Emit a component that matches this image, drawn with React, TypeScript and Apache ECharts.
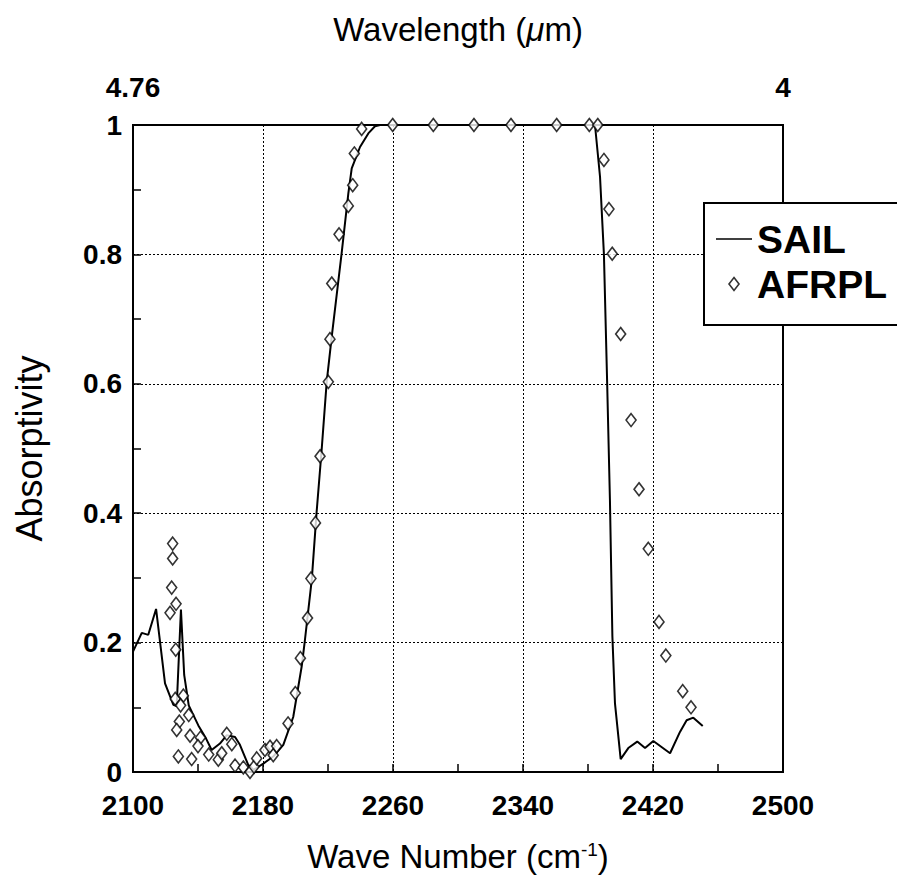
import React, { useEffect, useRef } from "react";
import * as echarts from "echarts";

// SAIL model curve: [wave number (cm-1), absorptivity]
const SAIL: [number, number][] = [
  [2100, 0.186], [2105.4, 0.215], [2109.4, 0.212], [2114.2, 0.252], [2119.7, 0.137],
  [2124.8, 0.104], [2126.9, 0.102], [2129.5, 0.251], [2131.5, 0.15], [2134.3, 0.103],
  [2140.2, 0.072], [2144.9, 0.052], [2148.4, 0.034], [2153.5, 0.044], [2157.7, 0.057],
  [2162.8, 0.054], [2165.8, 0.042], [2170.9, 0.011], [2174.0, 0.003], [2180.2, 0.013],
  [2186.3, 0.024], [2192.5, 0.042], [2198.6, 0.085], [2203.8, 0.163], [2205.8, 0.204],
  [2210.0, 0.297], [2213.0, 0.402], [2216.1, 0.498], [2219.2, 0.603], [2222.3, 0.673],
  [2228.4, 0.802], [2232.5, 0.894], [2234.6, 0.933], [2239.7, 0.966], [2244.8, 0.987],
  [2248.9, 0.998], [2252, 1.0], [2300, 1.0], [2350, 1.0], [2384.3, 1.0],
  [2387.4, 0.92], [2389.8, 0.8], [2391.8, 0.6], [2393.5, 0.42], [2395, 0.21],
  [2396.6, 0.106], [2400.1, 0.02], [2404.8, 0.037], [2410.3, 0.047], [2415.1, 0.037],
  [2420.2, 0.048], [2430.5, 0.029], [2436.6, 0.062], [2440.7, 0.08], [2444.8, 0.084],
  [2450.6, 0.071],
];

// AFRPL measurements: [wave number (cm-1), absorptivity]
const AFRPL: [number, number][] = [
  [2124.4, 0.353], [2124.4, 0.33], [2123.8, 0.285], [2126.5, 0.26], [2122.8, 0.246],
  [2126.3, 0.189], [2126.0, 0.113], [2131.0, 0.118], [2129.3, 0.103], [2134.3, 0.088],
  [2128.5, 0.078], [2126.9, 0.065], [2135.1, 0.056], [2141.5, 0.053], [2140.0, 0.04],
  [2127.9, 0.024], [2136.1, 0.02], [2146.6, 0.027], [2152.5, 0.019], [2154.6, 0.029],
  [2157.7, 0.059], [2160.8, 0.043], [2162.8, 0.01], [2167.9, 0.007], [2172.0, 0.0],
  [2174.5, 0.008], [2176.1, 0.021], [2181.2, 0.034], [2184.3, 0.039], [2186.3, 0.026],
  [2188.4, 0.04], [2195.4, 0.075], [2199.9, 0.122], [2203.0, 0.176], [2207.4, 0.238],
  [2209.5, 0.299], [2212.3, 0.385], [2215.1, 0.488], [2220.2, 0.603], [2221.2, 0.669],
  [2222.3, 0.755], [2226.8, 0.831], [2232.5, 0.875], [2235.2, 0.907], [2236.2, 0.956],
  [2240.7, 0.994], [2259.8, 1.0], [2284.8, 1.0], [2309.8, 1.0], [2332.6, 1.0],
  [2360.7, 1.0], [2380.8, 1.0], [2386.0, 1.0], [2389.8, 0.946], [2392.9, 0.87],
  [2394.9, 0.801], [2400.1, 0.677], [2406.5, 0.544], [2411.4, 0.437], [2417.1, 0.345],
  [2423.7, 0.232], [2427.9, 0.18], [2438.3, 0.125], [2443.4, 0.1],
];

// Wavelength labels on the top axis, at the wave numbers they correspond to
const TOP_TICK_POSITIONS = [2100, 2500];
const TOP_TICK_LABELS = ["4.76", "4"];

const FONT = "'Liberation Sans', Arial, Helvetica, sans-serif";

export default function App() {
  const ref = useRef<HTMLDivElement>(null);

  useEffect(() => {
    if (!ref.current) return;
    const chart = echarts.init(ref.current, null, { renderer: "svg" });
    const black = "#000";
    chart.setOption({
      animation: false,
      backgroundColor: "#fff",
      textStyle: { fontFamily: FONT, color: black },
      grid: {
        left: 133,
        top: 125,
        right: 114,
        bottom: 112,
        show: true,
        borderColor: black,
        borderWidth: 2,
        backgroundColor: "transparent",
      },
      legend: {
        orient: "vertical",
        left: 704,
        top: 203,
        padding: [16, 30, 21, 12],
        backgroundColor: "#fff",
        borderColor: black,
        borderWidth: 2,
        borderRadius: 0,
        itemWidth: 36,
        itemHeight: 13,
        itemGap: 5,
        symbolKeepAspect: true,
        textStyle: {
          fontFamily: FONT,
          fontSize: 39,
          fontWeight: "bold",
          color: black,
          lineHeight: 40,
        },
        data: [
          {
            name: "SAIL",
            icon: "path://M0,0 L36,0 L36,1.6 L0,1.6 Z",
            itemStyle: { color: black, borderWidth: 0 },
          },
          {
            name: "AFRPL",
            icon: "path://M5,0 L10,6.5 L5,13 L0,6.5 Z",
            itemStyle: { color: "#fff", borderColor: black, borderWidth: 1.6 },
          },
        ],
      },
      xAxis: [
        {
          type: "value",
          position: "bottom",
          min: 2100,
          max: 2500,
          interval: 80,
          name: "Wave Number (cm{sup|-1})",
          nameLocation: "middle",
          nameGap: 68,
          nameTextStyle: {
            fontFamily: FONT,
            fontSize: 33,
            color: black,
            rich: {
              sup: { fontSize: 19, fontFamily: FONT, color: black, verticalAlign: "top", padding: [0, 0, 14, 0] },
            },
          },
          axisLine: { show: true, lineStyle: { color: black, width: 2 } },
          axisTick: { show: true, inside: true, length: 8, lineStyle: { color: black, width: 1.5 } },
          minorTick: { show: true, splitNumber: 2, length: 8, lineStyle: { color: black, width: 1.5 } },
          axisLabel: {
            fontFamily: FONT,
            fontSize: 28,
            fontWeight: "bold",
            color: black,
            margin: 19,
            showMinLabel: true,
            showMaxLabel: true,
            formatter: (v: number) => String(v),
          },
          splitLine: { show: true, lineStyle: { color: black, width: 1, type: [2, 2] } },
        },
        {
          type: "value",
          position: "top",
          min: 2100,
          max: 2500,
          interval: 400,
          name: "Wavelength ({mu|μ}m)",
          nameLocation: "middle",
          nameGap: 79,
          nameTextStyle: {
            fontFamily: FONT,
            fontSize: 33,
            color: black,
            rich: { mu: { fontFamily: FONT, fontSize: 33, fontStyle: "italic", color: black } },
          },
          axisLine: { show: false },
          axisTick: { show: false },
          splitLine: { show: false },
          axisLabel: {
            fontFamily: FONT,
            fontSize: 28,
            fontWeight: "bold",
            color: black,
            margin: 24,
            showMinLabel: true,
            showMaxLabel: true,
            formatter: (v: number) => {
              const i = TOP_TICK_POSITIONS.indexOf(v);
              return i >= 0 ? TOP_TICK_LABELS[i] : "";
            },
          },
        },
      ],
      yAxis: {
        type: "value",
        min: 0,
        max: 1,
        interval: 0.2,
        name: "Absorptivity",
        nameLocation: "middle",
        nameGap: 86,
        nameRotate: 90,
        nameTextStyle: { fontFamily: FONT, fontSize: 36, color: black },
        axisLine: { show: true, lineStyle: { color: black, width: 2 } },
        axisTick: { show: true, inside: true, length: 8, lineStyle: { color: black, width: 1.5 } },
        minorTick: { show: true, splitNumber: 2, length: 8, lineStyle: { color: black, width: 1.5 } },
        axisLabel: {
          fontFamily: FONT,
          fontSize: 28,
          fontWeight: "bold",
          color: black,
          margin: 11,
          formatter: (v: number) => String(Number(v.toFixed(1))),
        },
        splitLine: { show: true, lineStyle: { color: black, width: 1, type: [2, 2] } },
      },
      series: [
        {
          name: "SAIL",
          type: "line",
          xAxisIndex: 0,
          data: SAIL,
          symbol: "none",
          smooth: false,
          lineStyle: { color: black, width: 2 },
          itemStyle: { color: black },
          z: 2,
        },
        {
          name: "AFRPL",
          type: "scatter",
          xAxisIndex: 0,
          data: AFRPL,
          symbol: "diamond",
          symbolSize: [10, 13],
          itemStyle: { color: "#fff", borderColor: black, borderWidth: 1.6 },
          z: 3,
        },
      ],
    });
    return () => chart.dispose();
  }, []);

  return <div ref={ref} style={{ width: 897, height: 884, position: "absolute", left: 0, top: 0 }} />;
}
